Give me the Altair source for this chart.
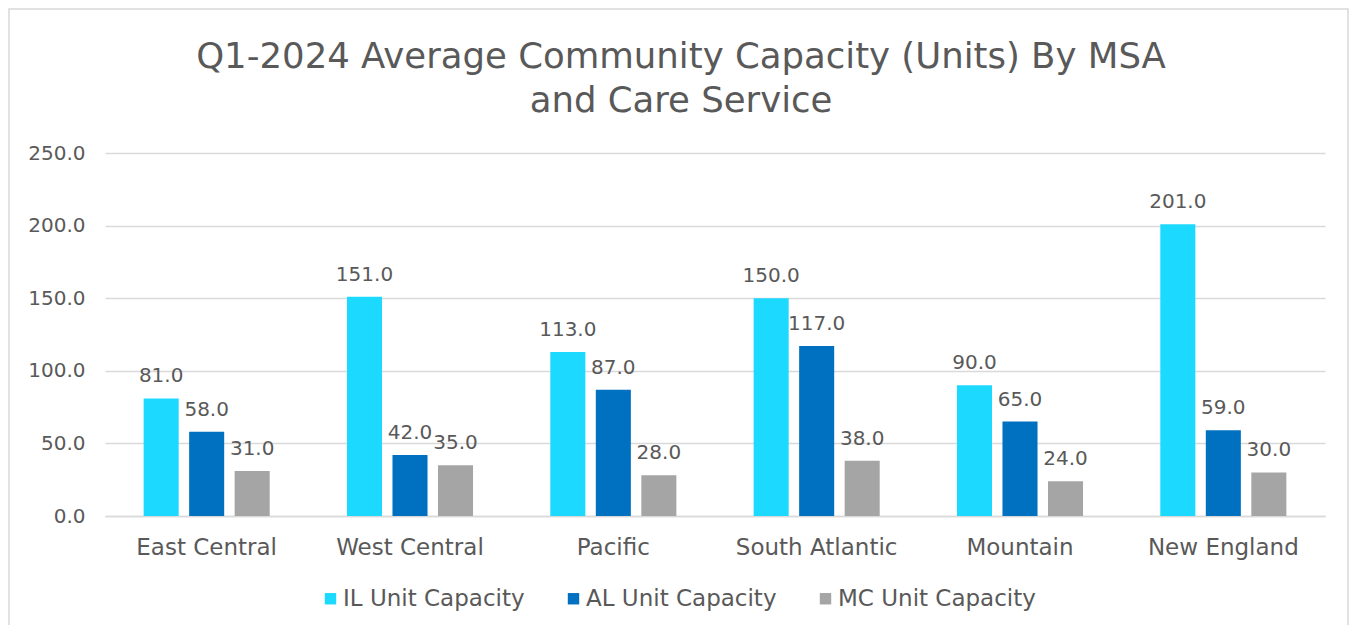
import altair as alt
import pandas as pd

regions = ["East Central", "West Central", "Pacific", "South Atlantic", "Mountain", "New England"]
services = ["IL Unit Capacity", "AL Unit Capacity", "MC Unit Capacity"]
il_values = [81, 151, 113, 150, 90, 201]
al_values = [58, 42, 87, 117, 65, 59]
mc_values = [31, 35, 28, 38, 24, 30]
colors = ["#1CDAFF", "#0070C0", "#A5A5A5"]
y_ticks = [0, 50, 100, 150, 200, 250]
title_text = "Q1-2024 Average Community Capacity (Units) By MSA\nand Care Service"

rows = []
for i, r in enumerate(regions):
    for s, vals in zip(services, [il_values, al_values, mc_values]):
        rows.append({"Region": r, "Service": s, "Value": vals[i]})
df = pd.DataFrame(rows)

FONT = "DejaVu Sans"
TXT = "#595959"

x_enc = alt.X("Region:N", sort=regions, title=None,
              scale=alt.Scale(paddingInner=0.38, paddingOuter=0.19),
              axis=alt.Axis(labelAngle=0, labelFontSize=23, labelColor=TXT, labelFont=FONT,
                            labelPadding=20, ticks=False, domain=True, domainColor="#D9D9D9",
                            domainWidth=1.5, grid=False))
xoff = alt.XOffset("Service:N", sort=services, scale=alt.Scale(paddingInner=0.23, paddingOuter=0))
y_enc = alt.Y("Value:Q", title=None,
              scale=alt.Scale(domain=[0, 250], nice=False),
              axis=alt.Axis(values=y_ticks, format=".1f", labelFontSize=20, labelColor=TXT,
                            labelFont=FONT, labelPadding=20, ticks=False, domain=False,
                            grid=True, gridColor="#D9D9D9", gridWidth=1.5))

bars = alt.Chart(df).mark_bar().encode(
    x=x_enc, xOffset=xoff, y=y_enc,
    color=alt.Color("Service:N", sort=services,
                    scale=alt.Scale(domain=services, range=colors),
                    legend=alt.Legend(title=None, orient="none", direction="horizontal",
                                      legendX=214, legendY=434, symbolType="square",
                                      symbolSize=130, symbolStrokeWidth=0,
                                      labelFontSize=23, labelColor=TXT, labelFont=FONT,
                                      labelOffset=1, columnPadding=37, padding=0,
                                      labelLimit=400))
)

labels = alt.Chart(df).mark_text(fontSize=20, font=FONT, color=TXT, baseline="alphabetic", dy=-16).encode(
    x=alt.X("Region:N", sort=regions), xOffset=alt.XOffset("Service:N", sort=services),
    y="Value:Q", text=alt.Text("Value:Q", format=".1f")
)

border = alt.Chart(alt.Data(values=[{}])).mark_rect(fill=None, stroke="#D9D9D9", strokeWidth=1.5).encode(
    x=alt.value(-96), x2=alt.value(1243), y=alt.value(-144), y2=alt.value(500)
)

title = alt.Chart(alt.Data(values=[{}])).mark_text(
    text=title_text, lineBreak="\n", lineHeight=44, fontSize=35.5, font=FONT, color=TXT,
    align="center", baseline="alphabetic"
).encode(x=alt.value(576), y=alt.value(-85))

chart = alt.layer(border, title, bars, labels).properties(
    width=1220, height=363,
    autosize=alt.AutoSizeParams(type="none"),
    padding={"left": 97, "top": 145, "right": 24, "bottom": 109},
    background="white",
).configure_view(stroke=None)

chart.save("out.html", embed_options={"renderer": "svg", "actions": False})
